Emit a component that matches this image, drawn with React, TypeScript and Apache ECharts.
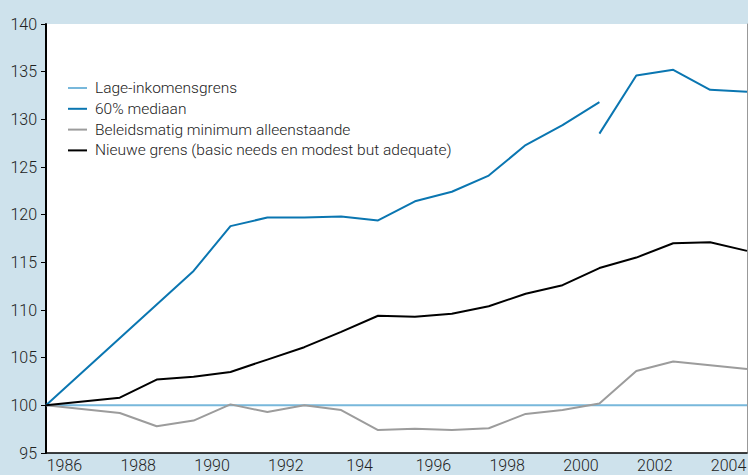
import React, { useEffect, useRef } from "react";
import * as echarts from "echarts";

// tick labels of the x-axis (one per yearly interval; the original prints "194")
const xTickLabels = ["1986", "", "1988", "", "1990", "", "1992", "", "194", "", "1996", "", "1998", "", "2000", "", "2002", "", "2004"];
const yTickValues = [95, 100, 105, 110, 115, 120, 125, 130, 135, 140];

const seriesNames = [
  "Lage-inkomensgrens",
  "60% mediaan",
  "Beleidsmatig minimum alleenstaande",
  "Nieuwe grens (basic needs en modest but adequate)",
];

// values at yearly ticks 0..19 (null = no point there)
const lageInkomensgrens = [100, 100, 100, 100, 100, 100, 100, 100, 100, 100, 100, 100, 100, 100, 100, 100, 100, 100, 100, 100];
const mediaan60Old = [100, null, null, null, 114.1, 118.8, 119.7, 119.7, 119.8, 119.4, 121.4, 122.4, 124.1, 127.3, 129.4, 131.8, null, null, null, null];
const mediaan60New = [null, null, null, null, null, null, null, null, null, null, null, null, null, null, null, 128.5, 134.6, 135.2, 133.1, 132.9];
const beleidsmatig = [100, null, 99.2, 97.8, 98.4, 100.1, 99.3, 100.0, 99.5, 97.4, 97.55, 97.4, 97.6, 99.1, 99.5, 100.2, 103.6, 104.6, 104.2, 103.8];
const nieuweGrens = [100, null, 100.8, 102.7, 103.0, 103.5, 104.8, 106.1, 107.7, 109.4, 109.3, 109.6, 110.4, 111.7, 112.6, 114.4, 115.5, 117.0, 117.1, 116.2];

const toPairs = (arr: (number | null)[]) =>
  arr.map((v, i) => [i, v]).filter((d) => d[1] !== null);

const FONT = "Roboto";

export default function App() {
  const ref = useRef<HTMLDivElement>(null);
  useEffect(() => {
    if (!ref.current) return;
    const chart = echarts.init(ref.current, null, { renderer: "svg" });
    const colors = ["#78b8db", "#0a76b1", "#9c9c9c", "#000000"];
    const lineSeries = (name: string, data: (number | null)[], color: string) => ({
      name,
      type: "line",
      xAxisIndex: 0,
      yAxisIndex: 0,
      data: toPairs(data),
      showSymbol: false,
      symbol: "none",
      lineStyle: { color, width: 2 },
      itemStyle: { color },
      connectNulls: true,
    });
    chart.setOption({
      animation: false,
      backgroundColor: "#cee2ec",
      textStyle: { fontFamily: FONT },
      grid: {
        left: 46,
        right: 1,
        top: 24,
        bottom: 22,
        containLabel: false,
        outerBoundsMode: "none",
        show: true,
        backgroundColor: "#ffffff",
        borderWidth: 0,
      },
      legend: {
        orient: "vertical",
        left: 68,
        top: 79,
        padding: 0,
        icon: "rect",
        itemWidth: 19,
        itemHeight: 2,
        itemGap: 2.8,
        data: seriesNames,
        textStyle: {
          fontFamily: FONT,
          fontSize: 15.5,
          fontWeight: 300,
          color: "#222",
          lineHeight: 18,
          padding: [0, 0, 0, 3],
        },
      },
      xAxis: [
        {
          type: "value",
          min: 0,
          max: 19,
          interval: 1,
          show: false,
        },
        {
          type: "category",
          position: "bottom",
          data: xTickLabels,
          boundaryGap: true,
          axisLine: { lineStyle: { color: "#000", width: 1.5 } },
          axisTick: { interval: 0, length: 5, lineStyle: { color: "#000" } },
          axisLabel: {
            interval: 0,
            fontFamily: FONT,
            fontSize: 16,
            fontWeight: 300,
            color: "#222",
            margin: 4,
            lineHeight: 16,
          },
          splitLine: { show: false },
        },
      ],
      yAxis: [
        {
          type: "value",
          min: yTickValues[0],
          max: yTickValues[yTickValues.length - 1],
          interval: 5,
          axisLine: { show: true, lineStyle: { color: "#000", width: 2 } },
          axisTick: { show: true, length: 5, lineStyle: { color: "#000" } },
          axisLabel: {
            fontFamily: FONT,
            fontSize: 16,
            fontWeight: 300,
            color: "#222",
            margin: 9,
          },
          splitLine: { show: false },
        },
        {
          type: "value",
          position: "right",
          min: yTickValues[0],
          max: yTickValues[yTickValues.length - 1],
          interval: 5,
          axisLine: { show: true, lineStyle: { color: "#999", width: 1 } },
          axisTick: { show: false },
          axisLabel: { show: false },
          splitLine: { show: false },
        },
      ],
      series: [
        lineSeries(seriesNames[0], lageInkomensgrens, colors[0]),
        lineSeries(seriesNames[1], mediaan60Old, colors[1]),
        lineSeries(seriesNames[1], mediaan60New, colors[1]),
        lineSeries(seriesNames[2], beleidsmatig, colors[2]),
        lineSeries(seriesNames[3], nieuweGrens, colors[3]),
      ],
    });
    return () => chart.dispose();
  }, []);
  return (
    <div
      ref={ref}
      style={{ position: "fixed", left: 0, top: 0, width: 748, height: 475 }}
    />
  );
}
